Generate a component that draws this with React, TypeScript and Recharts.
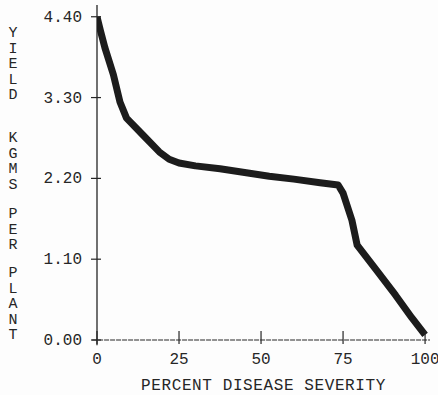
import React from 'react';
import { LineChart, Line, XAxis, YAxis, ReferenceLine } from 'recharts';

// values
const severity = [0, 1, 2.4, 5, 7, 9, 14, 19, 22, 25, 30, 37.5, 45, 52.5, 60, 68, 73.5, 75, 77.7, 79.3, 85, 91, 96, 100];
const yieldKg = [4.4, 4.22, 3.98, 3.61, 3.24, 3.02, 2.79, 2.56, 2.46, 2.41, 2.37, 2.33, 2.28, 2.23, 2.19, 2.14, 2.11, 2.0, 1.63, 1.29, 0.96, 0.61, 0.3, 0.07];

const xTicks = [0, 25, 50, 75, 100];
const yTicks = [0, 1.1, 2.2, 3.3, 4.4];
const yLabelWords = ['YIELD', 'KGMS', 'PER', 'PLANT'];

const FONT = "'Courier New', 'Liberation Mono', monospace";
const INK = '#262626';

const data = severity.map((s, i) => ({ s, y: yieldKg[i] }));

const YTick = (props: any) => {
  const { x, y, payload } = props;
  return (
    <g>
      <line x1={x + 9} x2={x + 19} y1={y} y2={y} stroke={INK} strokeWidth={1.2} />
      <text x={x} y={y} dy={5} textAnchor="end" fontFamily={FONT} fontSize={16} fill={INK}>
        {payload.value.toFixed(2)}
      </text>
    </g>
  );
};

const XTick = (props: any) => {
  const { x, y, payload } = props;
  return (
    <g>
      <line x1={x} x2={x} y1={y - 19} y2={y - 6} stroke={INK} strokeWidth={1.2} />
      <text x={x} y={y} dy={14} textAnchor="middle" fontFamily={FONT} fontSize={16} fill={INK}>
        {payload.value}
      </text>
    </g>
  );
};

const YLabel = () => {
  const starts = [32, 137, 213, 272];
  return (
    <g>
      {yLabelWords.map((w, wi) =>
        w.split('').map((ch, ci) => (
          <text
            key={`${wi}-${ci}`}
            x={13}
            y={starts[wi] + ci * 15.5 + 5}
            fontFamily={FONT}
            fontSize={15}
            fill={INK}
            textAnchor="middle"
          >
            {ch}
          </text>
        ))
      )}
    </g>
  );
};

export default function App() {
  return (
    <div style={{ position: 'absolute', left: 0, top: 0, width: 438, height: 395, background: '#fdfdfd' }}>
      <LineChart width={438} height={395} data={data} margin={{ top: 5, right: 8, bottom: 0, left: 0 }}>
        <XAxis
          dataKey="s"
          type="number"
          domain={[0, 101.5]}
          ticks={xTicks}
          allowDataOverflow
          axisLine={false}
          tickLine={false}
          tickSize={0}
          tickMargin={10}
          tick={<XTick />}
          height={55}
          label={{
            value: 'PERCENT DISEASE SEVERITY',
            position: 'insideBottom',
            offset: 5,
            fontFamily: FONT,
            fontSize: 16,
            fill: INK,
            letterSpacing: 0.6,
          }}
        />
        <YAxis
          type="number"
          domain={[0, 4.56]}
          ticks={yTicks}
          allowDataOverflow
          axisLine={false}
          tickLine={false}
          tickSize={0}
          tickMargin={15}
          tick={<YTick />}
          width={97}
          label={{ content: () => <YLabel /> }}
        />
        <ReferenceLine
          segment={[{ x: 0, y: -0.07 }, { x: 0, y: 4.56 }]}
          stroke={INK}
          strokeWidth={1.3}
          ifOverflow="visible"
        />
        <ReferenceLine
          segment={[{ x: -1.5, y: 0 }, { x: 101.5, y: 0 }]}
          stroke={INK}
          strokeWidth={1.2}
          strokeDasharray="5 1"
          ifOverflow="visible"
        />
        <Line
          type="linear"
          dataKey="y"
          stroke="#1c1c1c"
          strokeWidth={7}
          strokeLinejoin="round"
          dot={false}
          isAnimationActive={false}
        />
      </LineChart>
    </div>
  );
}
